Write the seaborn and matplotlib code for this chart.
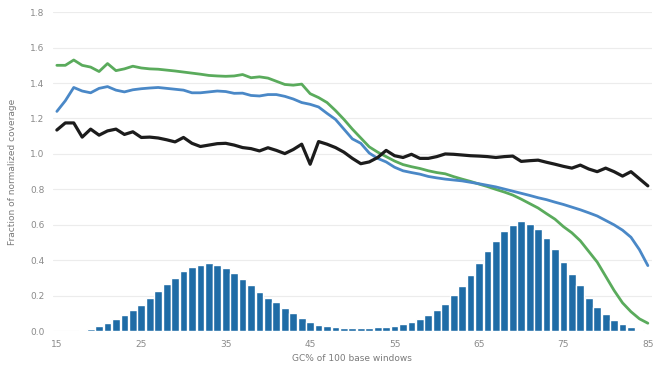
import numpy as np
import pandas as pd
import matplotlib
matplotlib.use("Agg")
import matplotlib.pyplot as plt
import seaborn as sns

# GC% of 100 base windows (one bin per percent)
gc = list(range(15, 86))

# fraction of windows in each GC bin (histogram)
windows = [0.0, 0.001, 0.003, 0.005, 0.015, 0.03, 0.047, 0.068, 0.094, 0.118,
           0.15, 0.188, 0.226, 0.265, 0.30, 0.338, 0.36, 0.376, 0.382, 0.376,
           0.357, 0.331, 0.297, 0.26, 0.222, 0.188, 0.162, 0.131, 0.105, 0.075,
           0.052, 0.036, 0.028, 0.022, 0.018, 0.016, 0.016, 0.018, 0.021, 0.024,
           0.03, 0.04, 0.051, 0.068, 0.09, 0.119, 0.156, 0.203, 0.254, 0.316,
           0.382, 0.453, 0.51, 0.566, 0.598, 0.62, 0.604, 0.574, 0.523, 0.461,
           0.391, 0.322, 0.26, 0.19, 0.137, 0.096, 0.062, 0.038, 0.021, 0.009,
           0.004]

green = [1.50, 1.50, 1.53, 1.50, 1.49, 1.465, 1.51, 1.47, 1.48, 1.495,
         1.485, 1.48, 1.478, 1.473, 1.468, 1.462, 1.456, 1.45, 1.443, 1.44,
         1.438, 1.44, 1.448, 1.43, 1.435, 1.428, 1.41, 1.392, 1.388, 1.394,
         1.34, 1.318, 1.29, 1.245, 1.195, 1.14, 1.09, 1.04, 1.01, 0.985,
         0.96, 0.94, 0.928, 0.918, 0.905, 0.895, 0.888, 0.872, 0.858, 0.845,
         0.83, 0.816, 0.80, 0.785, 0.768, 0.745, 0.72, 0.695, 0.663, 0.632,
         0.59, 0.555, 0.51, 0.45, 0.39, 0.31, 0.23, 0.16, 0.11, 0.07,
         0.045]

blue = [1.24, 1.30, 1.375, 1.355, 1.345, 1.37, 1.38, 1.36, 1.35, 1.362,
        1.368, 1.372, 1.375, 1.37, 1.365, 1.36, 1.345, 1.345, 1.35, 1.355,
        1.352, 1.342, 1.343, 1.33, 1.327, 1.335, 1.335, 1.325, 1.31, 1.29,
        1.28, 1.265, 1.229, 1.195, 1.14, 1.085, 1.06, 1.005, 0.975, 0.955,
        0.925, 0.905, 0.895, 0.886, 0.873, 0.865, 0.858, 0.853, 0.848, 0.84,
        0.832, 0.823, 0.814, 0.802, 0.79, 0.778, 0.766, 0.753, 0.742, 0.728,
        0.715, 0.70, 0.685, 0.668, 0.65, 0.625, 0.60, 0.57, 0.53, 0.46,
        0.37]

black = [1.135, 1.175, 1.175, 1.095, 1.14, 1.106, 1.13, 1.14, 1.11, 1.125,
         1.093, 1.095, 1.09, 1.08, 1.068, 1.093, 1.06, 1.042, 1.05, 1.058,
         1.06, 1.05, 1.036, 1.03, 1.017, 1.035, 1.02, 1.002, 1.025, 1.055,
         0.942, 1.07, 1.055, 1.036, 1.01, 0.975, 0.945, 0.955, 0.98, 1.02,
         0.99, 0.98, 0.998, 0.975, 0.975, 0.985, 1.0, 0.998, 0.994, 0.99,
         0.988, 0.985, 0.98, 0.985, 0.988, 0.958, 0.962, 0.965, 0.953, 0.942,
         0.93, 0.92, 0.937, 0.915, 0.90, 0.92, 0.90, 0.875, 0.90, 0.86,
         0.82]

xticks = [15, 25, 35, 45, 55, 65, 75, 85]
yticks = [0.0, 0.2, 0.4, 0.6, 0.8, 1.0, 1.2, 1.4, 1.6, 1.8]

df = pd.DataFrame({"gc": gc, "windows": windows, "green": green,
                   "blue": blue, "black": black})

sns.set_style("white")
plt.rcParams['font.family'] = ['DejaVu Sans']

fig = plt.figure(figsize=(6.58, 3.68), dpi=100)
ax = fig.add_axes([0.080, 0.100, 0.911, 0.867])

sns.barplot(data=df, x="gc", y="windows", native_scale=True, color="#1f6ca6",
            saturation=1, width=0.92, ax=ax, zorder=2)
sns.lineplot(data=df, x="gc", y="green", color="#5aab5c", lw=2.0, ax=ax, zorder=3)
sns.lineplot(data=df, x="gc", y="blue", color="#4a88c7", lw=2.0, ax=ax, zorder=3)
sns.lineplot(data=df, x="gc", y="black", color="#1c1c1c", lw=2.3, ax=ax, zorder=4)

ax.set_xlim(14.5, 85.5)
ax.set_ylim(0, 1.8)
ax.set_xticks(xticks)
ax.set_xticklabels([str(t) for t in xticks])
ax.set_yticks(yticks)
ax.set_yticklabels(["%.1f" % t for t in yticks])
ax.grid(axis="y", color="#ececec", lw=0.8, zorder=0)
ax.set_axisbelow(True)
sns.despine(ax=ax, left=True, bottom=True)
ax.tick_params(axis="both", length=0, labelsize=6.5, colors="#8a8a8a", pad=6)
ax.set_xlabel("GC% of 100 base windows", fontsize=6.5, color="#7a7a7a", labelpad=4)
ax.set_ylabel("Fraction of normalized coverage", fontsize=6.5, color="#7a7a7a", labelpad=9)

plt.savefig("out.png", dpi=100)
